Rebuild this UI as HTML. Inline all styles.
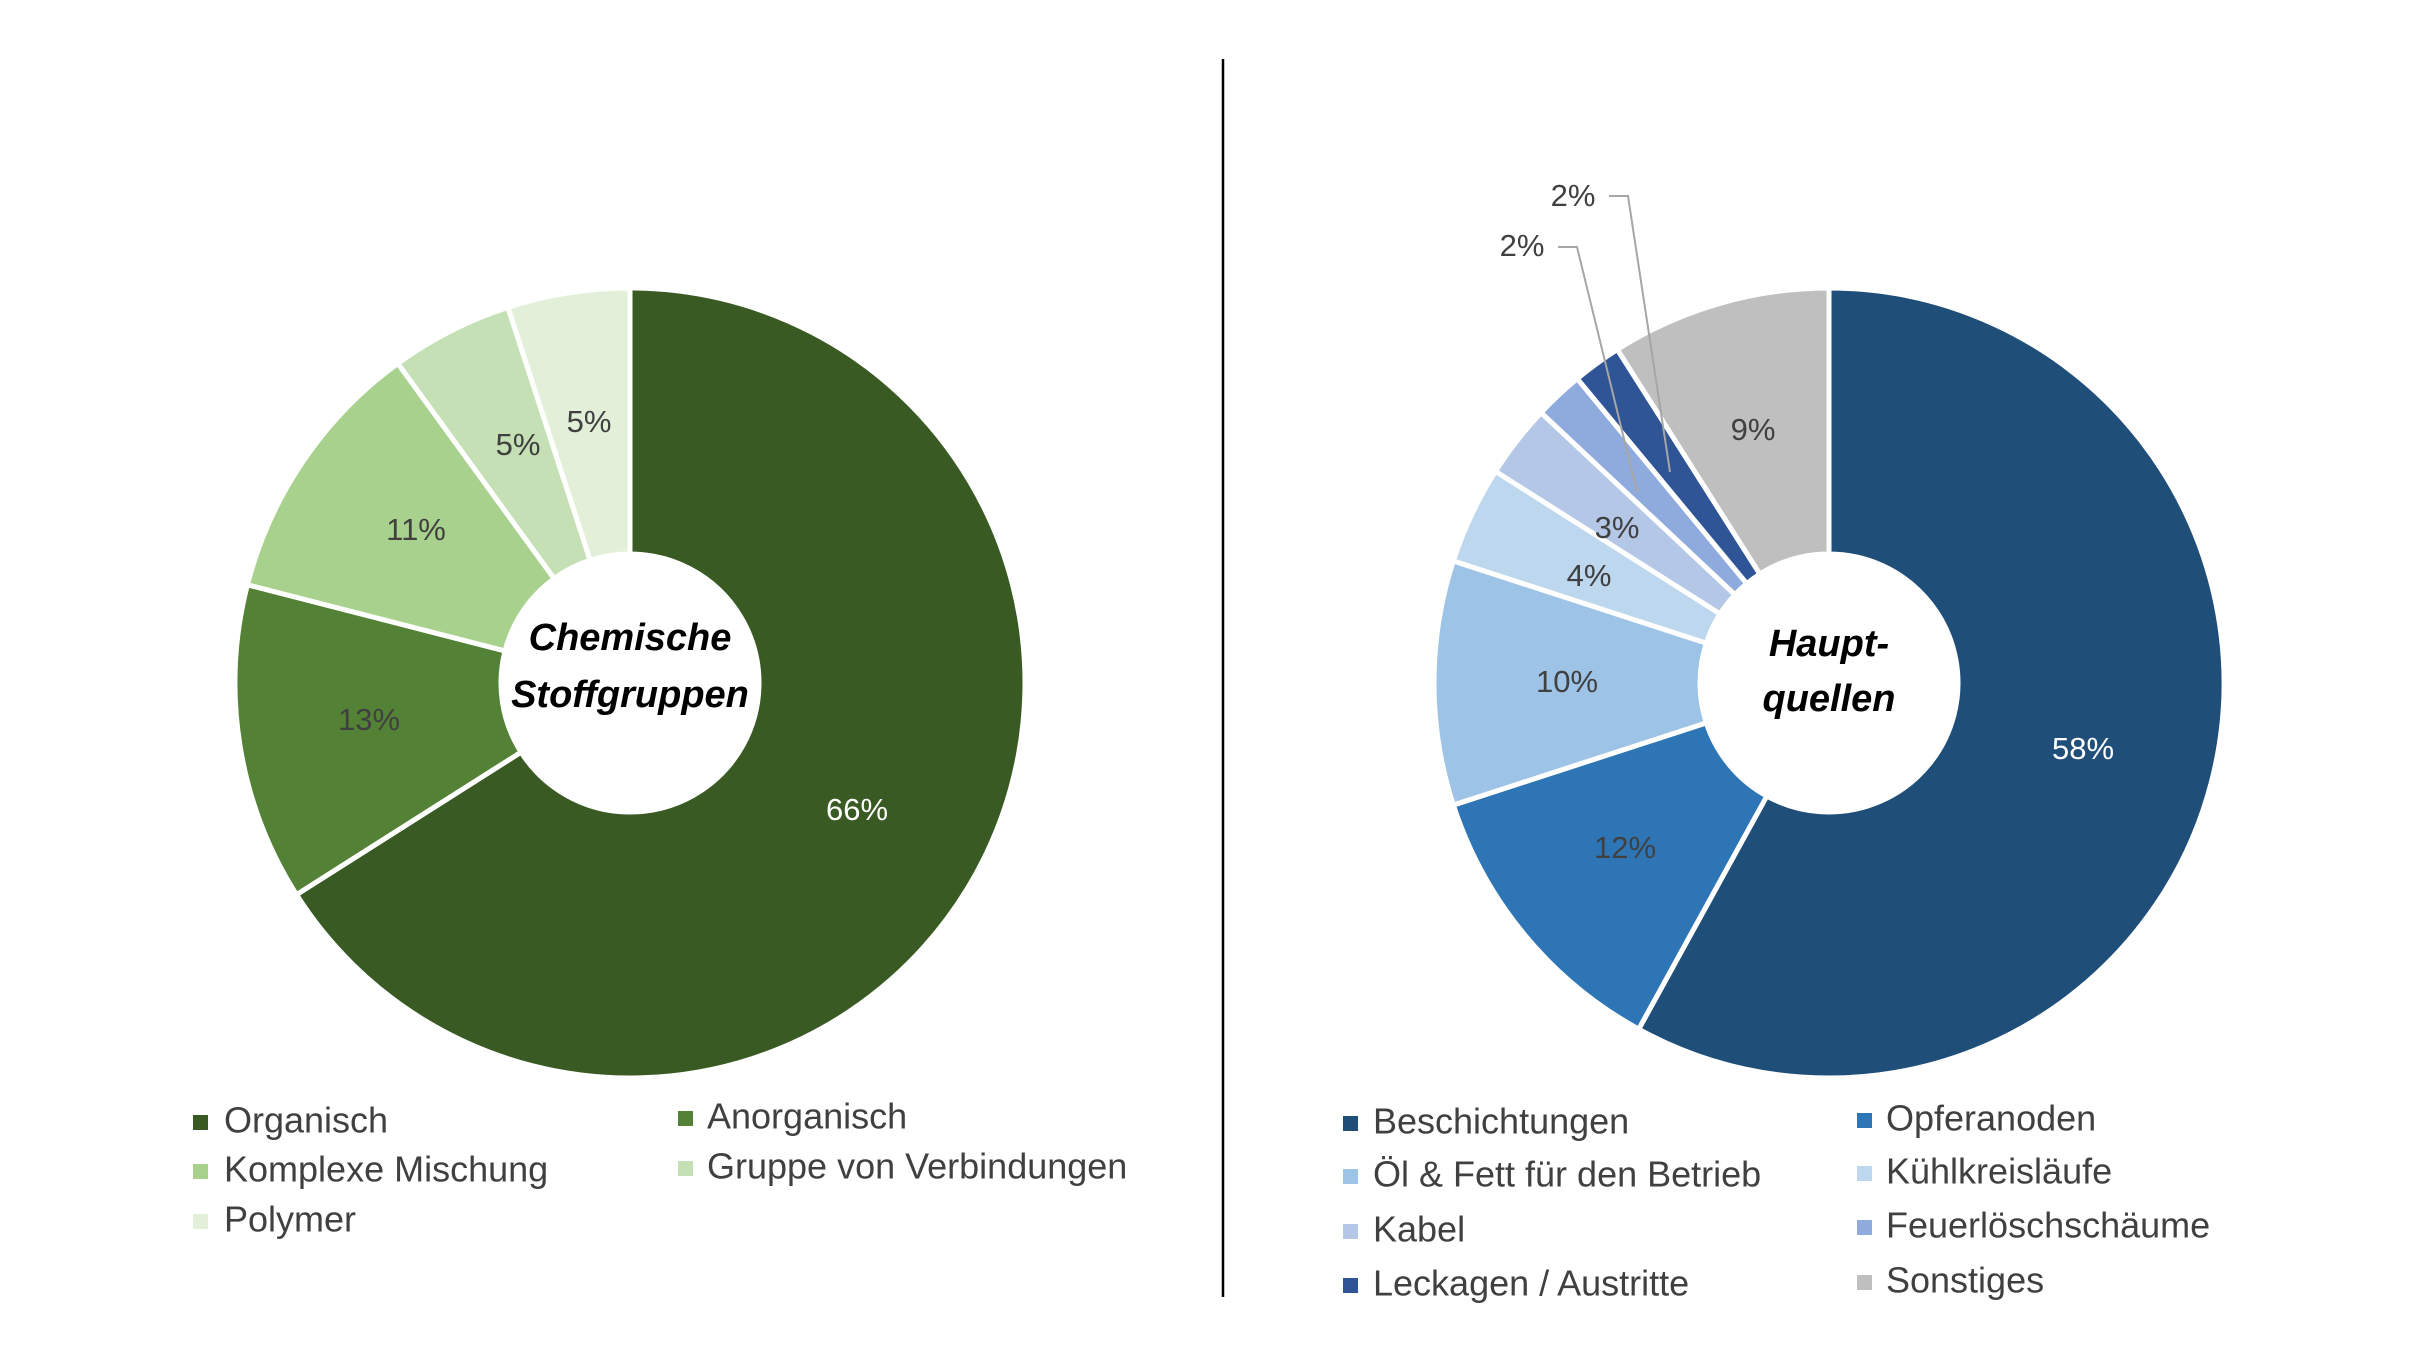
<!DOCTYPE html>
<html><head><meta charset="utf-8"><style>
html,body{margin:0;padding:0;background:#fff;}
svg{display:block;font-family:"Liberation Sans",sans-serif;}
</style></head><body>
<svg id="chart" width="2432" height="1352" viewBox="0 0 2432 1352" xmlns="http://www.w3.org/2000/svg">
<line x1="1223" y1="59" x2="1223" y2="1297" stroke="#000" stroke-width="2.5"/>
<g id="left"></g><g id="right"></g>
</svg>
<script>
const leftCats=["Organisch","Anorganisch","Komplexe Mischung","Gruppe von Verbindungen","Polymer"];
const leftVals=[66,13,11,5,5];
const leftColors=["#3A5A23","#538135","#A9D18E","#C5E0B4","#E2F0D9"];
const rightCats=["Beschichtungen","Opferanoden","Öl & Fett für den Betrieb","Kühlkreisläufe","Kabel","Feuerlöschschäume","Leckagen / Austritte","Sonstiges"];
const rightVals=[58,12,10,4,3,2,2,9];
const rightColors=["#1F4E79","#2E75B6","#9DC3E6","#BDD7EE","#B4C7E7","#8FAADC","#2F5597","#BFBFBF"];
const NS="http://www.w3.org/2000/svg";
const R=395, r0=129;
function mk(tag,attrs,parent){const e=document.createElementNS(NS,tag);for(const k in attrs)e.setAttribute(k,attrs[k]);parent.appendChild(e);return e;}
function pt(cx,cy,rad,a){return [cx+rad*Math.sin(a),cy-rad*Math.cos(a)];}
function donut(g,cx,cy,vals,colors,cats,labelPos,whiteIdx,prefix){
  const tot=vals.reduce((a,b)=>a+b,0);let acc=0;
  vals.forEach((v,i)=>{
    const a0=acc/tot*2*Math.PI;acc+=v;const a1=acc/tot*2*Math.PI;
    const large=(a1-a0)>Math.PI?1:0;
    const p0=pt(cx,cy,R,a0),p1=pt(cx,cy,R,a1),q1=pt(cx,cy,r0,a1),q0=pt(cx,cy,r0,a0);
    const p=mk('path',{d:`M${p0}A${R},${R} 0 ${large} 1 ${p1}L${q1}A${r0},${r0} 0 ${large} 0 ${q0}Z`,fill:colors[i],stroke:'#fff','stroke-width':5},g);
    
    
    const lp=labelPos[i];
    const t=mk('text',{x:lp[0],y:lp[1],'font-size':31,'text-anchor':'middle','dominant-baseline':'middle',fill:i===whiteIdx?'#fff':'#404040'},g);
    t.textContent=v+'%';
    
    
  });
}
const gl=document.getElementById('left'),gr=document.getElementById('right');
donut(gl,630,683,leftVals,leftColors,leftCats,[[857,812],[369,722],[416,532],[518,447],[589,424]],0,'left');
donut(gr,1829,683,rightVals,rightColors,rightCats,[[2083,751],[1625,850],[1567,684],[1589,578],[1617,530],[1522,248],[1573,198],[1753,432]],0,'right');
[[ [1558,247],[1577,247],[1637,492] ],[ [1609,196],[1628,196],[1670,472] ]].forEach((pts,i)=>{
  const l=mk('polyline',{points:pts.join(' '),fill:'none',stroke:'#A6A6A6','stroke-width':2},gr);
  
  
});
function title(g,cx,lines,ys,name){
  lines.forEach((s,i)=>{const t=mk('text',{x:cx,y:ys[i],'font-size':38,'font-weight':'bold','font-style':'italic','text-anchor':'middle','dominant-baseline':'middle',fill:'#000'},g);
  t.textContent=s;
  
  });
}
title(gl,630,["Chemische","Stoffgruppen"],[640,697],'left-center-title');
title(gr,1829,["Haupt-","quellen"],[646,701],'right-center-title');
function legend(g,items,colors,cols,prefix){
  items.forEach((s,i)=>{const [mx,tx,y]=cols[i];
    const m=mk('rect',{x:mx,y:y-8,width:15,height:15,fill:colors[i]},g);
    
    
    const t=mk('text',{x:tx,y:y,'font-size':36,'dominant-baseline':'middle',fill:'#404040'},g);
    t.textContent=s;
    
    
  });
}
legend(gl,leftCats,leftColors,[[193,224,1123],[678,707,1119],[193,224,1172],[678,707,1169],[193,224,1222]],'left');
legend(gr,rightCats,rightColors,[[1343,1373,1124],[1857,1886,1121],[1343,1373,1177],[1857,1886,1174],[1343,1373,1232],[1857,1886,1228],[1343,1373,1286],[1857,1886,1283]],'right');
</script>
</body></html>
